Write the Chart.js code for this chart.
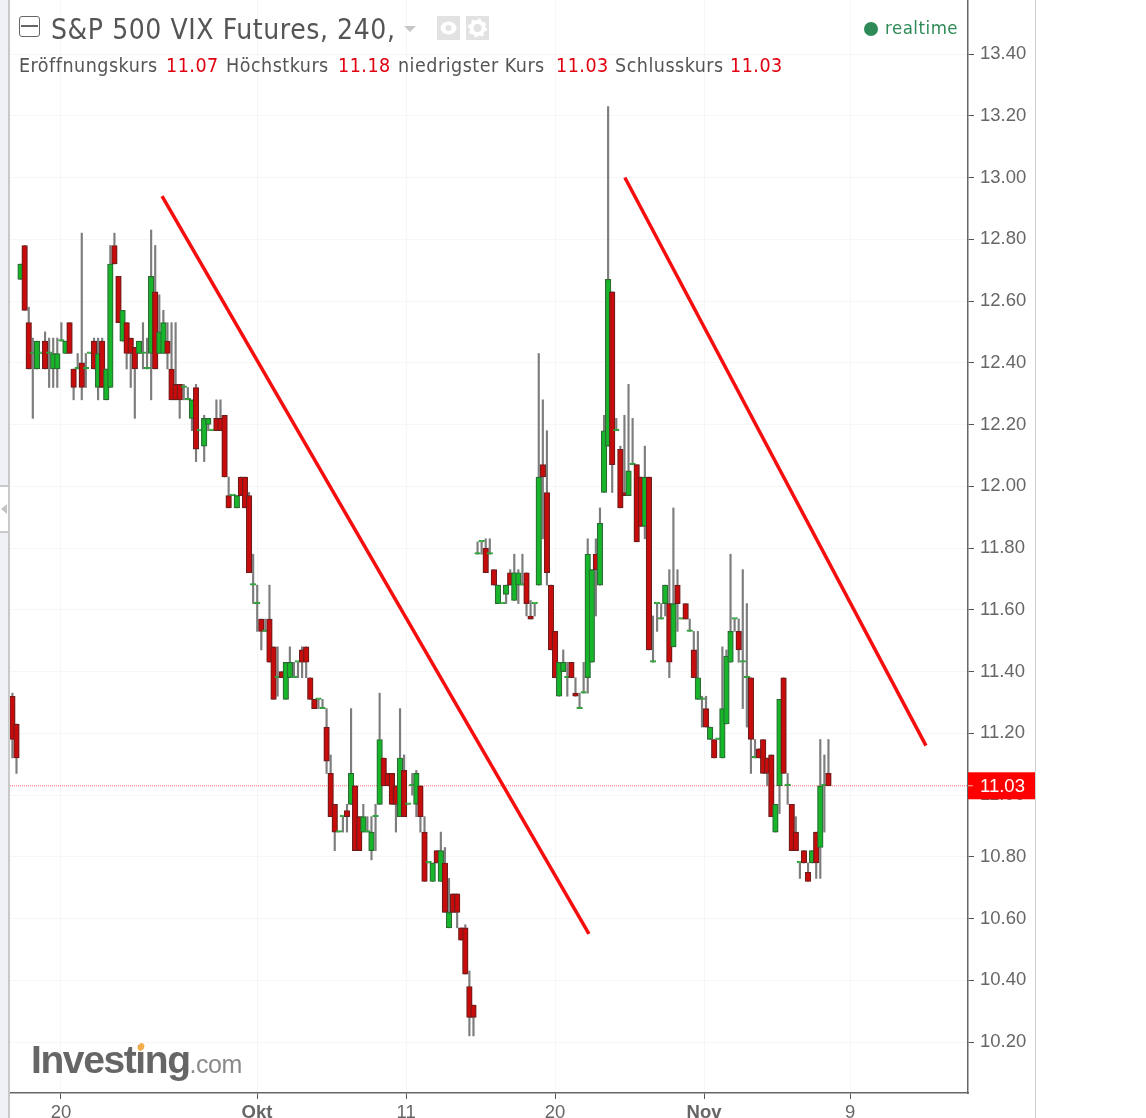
<!DOCTYPE html>
<html lang="de">
<head>
<meta charset="UTF-8">
<title>S&amp;P 500 VIX Futures, 240</title>
<script src="https://cdn.jsdelivr.net/npm/chart.js"></script>
<style>
    html, body { margin: 0; padding: 0; background: #fff; width: 1146px; height: 1118px; overflow: hidden; }
    #chart { position: absolute; left: 0; top: 0; }
    .panel { position: absolute; left: 0; top: 0; width: 8px; height: 1118px; background: #eff1f6; border-right: 2px solid #c9c9c9; }
    .tab { position: absolute; left: 0; top: 485px; width: 8px; height: 44px; background: #fff; border-top: 2px solid #c9c9c9; border-bottom: 2px solid #c9c9c9; }
    .tab:after { content: ""; position: absolute; left: 1px; top: 17px; border: 5px solid transparent; border-left: 0; border-right: 6px solid #c4c4c4; }
    .rightline { position: absolute; left: 1035px; top: 0; width: 1px; height: 1118px; background: #cfcfcf; }
    .txt { position: absolute; white-space: nowrap; font-family: "DejaVu Sans Condensed", "DejaVu Sans", sans-serif; color: #555; }
    .title { left: 51px; top: 12px; font-size: 28px; line-height: 36px; letter-spacing: 0.58px; }
    .lg { top: 54px; font-size: 19.5px; line-height: 24px; letter-spacing: 0.5px; }
    .val { color: #e0000f; }
    .minus { position: absolute; left: 19px; top: 16px; width: 19px; height: 19px; border: 1.5px solid #666; border-radius: 3px; }
    .minus:after { content: ""; position: absolute; left: 1px; right: 1px; top: 8px; height: 2px; background: #666; }
    .caret { position: absolute; left: 404px; top: 26px; border: 6.5px solid transparent; border-bottom: 0; border-top: 6px solid #c8c8c8; }
    .ico { position: absolute; top: 16px; width: 23px; height: 24px; background: #e2e2e2; }
    .dot { position: absolute; left: 864px; top: 22px; width: 14px; height: 14px; border-radius: 50%; background: #2e8b57; }
    .rt { left: 885px; top: 16px; font-size: 18.5px; line-height: 24px; color: #2e8b57; letter-spacing: 0.5px; }
    .logo { position: absolute; left: 31px; top: 1039px; white-space: nowrap; font-family: "Liberation Sans", Arial, sans-serif; line-height: 42px; color: #666; }
    .logo b { font-size: 39px; letter-spacing: -1.4px; }
    .logo span { font-size: 25px; color: #8a8a8a; letter-spacing: -0.5px; }
    .spark { position: absolute; left: 138px; top: 1043px; width: 6px; height: 8px; border-radius: 50%; background: #f4ad4d; transform: rotate(30deg); }
</style>
</head>
<body>
<canvas id="chart" width="1146" height="1118"></canvas>
<div class="panel"></div>
<div class="tab"></div>
<div class="rightline"></div>

<div class="minus"></div>
<div class="txt title">S&amp;P 500 VIX Futures, 240,</div>
<div class="caret"></div>
<div class="ico" style="left:437px">
    <svg width="23" height="24"><ellipse cx="11.5" cy="12" rx="8" ry="6.5" fill="#fff"/><circle cx="11.5" cy="12" r="3" fill="#e2e2e2"/></svg>
</div>
<div class="ico" style="left:466px">
    <svg width="23" height="24"><circle cx="11.5" cy="12" r="6" fill="none" stroke="#fff" stroke-width="4"/><circle cx="11.5" cy="12" r="8" fill="none" stroke="#fff" stroke-width="3" stroke-dasharray="3 3.3"/></svg>
</div>
<div class="dot"></div>
<div class="txt rt">realtime</div>

<div class="txt lg" style="left:19px">Eröffnungskurs</div>
<div class="txt lg val" style="left:166px">11.07</div>
<div class="txt lg" style="left:226px">Höchstkurs</div>
<div class="txt lg val" style="left:338px">11.18</div>
<div class="txt lg" style="left:398px">niedrigster Kurs</div>
<div class="txt lg val" style="left:556px">11.03</div>
<div class="txt lg" style="left:615px">Schlusskurs</div>
<div class="txt lg val" style="left:730px">11.03</div>

<div class="logo"><b>Investing</b><span>.com</span></div>
<div class="spark"></div>

<script>
    // 4h candles (prices in order of the bars)
    const opens = [
        11.32,11.23,12.67,12.78,12.53,12.43,12.38,12.43,12.47,12.43,
        12.38,12.38,12.47,12.43,12.53,12.38,12.38,12.40,12.38,12.43,
        12.47,12.32,12.47,12.28,12.32,12.78,12.68,12.47,12.53,12.48,
        12.45,12.43,12.43,12.38,12.43,12.63,12.43,12.43,12.47,12.38,
        12.33,12.33,12.32,12.28,12.22,12.32,12.18,12.13,12.20,12.18,
        12.22,12.22,12.23,11.97,11.97,11.93,12.03,12.03,11.97,11.68,
        11.62,11.57,11.53,11.57,11.48,11.38,11.40,11.31,11.38,11.38,
        11.43,11.47,11.48,11.38,11.31,11.31,11.28,11.22,11.07,10.97,
        10.88,10.93,10.95,10.97,11.03,10.93,10.88,10.88,10.82,10.93,
        10.97,11.12,11.07,11.07,11.03,10.93,11.08,10.97,11.03,10.97,
        11.03,10.88,10.78,10.72,10.82,10.72,10.78,10.57,10.68,10.68,
        10.57,10.57,10.38,10.32,11.78,11.82,11.80,11.78,11.73,11.62,
        11.62,11.65,11.72,11.63,11.68,11.68,11.72,11.58,11.62,11.68,
        12.07,11.98,11.68,11.53,11.32,11.40,11.38,11.43,11.33,11.28,
        11.33,11.38,11.43,11.78,11.68,11.98,12.13,12.63,12.18,12.12,
        11.98,11.97,12.07,12.07,12.03,11.87,12.03,11.43,11.62,11.57,
        11.62,11.62,11.48,11.68,11.57,11.62,11.53,11.47,11.31,11.31,
        11.28,11.18,11.18,11.18,11.12,11.23,11.43,11.57,11.53,11.43,
        11.38,11.38,11.12,11.15,11.18,11.12,11.13,10.88,11.03,11.38,
        11.03,10.97,10.88,10.78,10.82,10.75,10.78,10.88,10.83,11.03,11.07
    ];
    const highs = [
        11.33,11.23,12.72,12.78,12.58,12.48,12.47,12.43,12.50,12.48,
        12.48,12.48,12.53,12.47,12.53,12.38,12.43,12.82,12.43,12.43,
        12.48,12.48,12.48,12.38,12.78,12.82,12.68,12.57,12.53,12.48,
        12.45,12.47,12.53,12.48,12.83,12.78,12.62,12.57,12.53,12.53,
        12.53,12.33,12.33,12.32,12.28,12.33,12.18,12.23,12.22,12.18,
        12.28,12.28,12.23,12.03,11.97,11.97,12.03,12.03,11.98,11.78,
        11.68,11.57,11.57,11.68,11.48,11.48,11.40,11.43,11.48,11.43,
        11.43,11.48,11.48,11.38,11.31,11.31,11.31,11.28,11.13,10.97,
        10.88,10.93,10.97,11.28,11.03,10.93,10.97,10.93,10.93,10.97,
        11.33,11.12,11.07,11.07,11.03,11.28,11.13,10.97,11.07,11.08,
        11.03,10.93,10.78,10.78,10.82,10.88,10.83,10.73,10.68,10.68,
        10.57,10.58,10.43,10.32,11.82,11.82,11.83,11.83,11.73,11.68,
        11.62,11.68,11.73,11.78,11.73,11.78,11.72,11.63,11.62,12.43,
        12.28,12.18,11.68,11.53,11.43,11.47,11.43,11.43,11.38,11.33,
        11.43,11.83,11.73,11.83,11.93,12.23,13.23,12.63,12.22,12.13,
        12.23,12.33,12.22,12.07,12.03,12.13,12.03,11.58,11.62,11.62,
        11.68,11.73,11.93,11.73,11.57,11.62,11.57,11.53,11.53,11.32,
        11.32,11.22,11.18,11.18,11.48,11.47,11.78,11.57,11.57,11.73,
        11.62,11.38,11.18,11.15,11.18,11.12,11.13,10.97,11.31,11.38,
        11.07,10.97,10.93,10.78,10.82,10.78,10.82,10.88,11.18,11.13,11.18
    ];
    const lows = [
        11.12,11.07,12.67,12.57,12.38,12.22,12.38,12.43,12.38,12.32,
        12.32,12.32,12.47,12.43,12.43,12.28,12.38,12.28,12.32,12.43,
        12.38,12.28,12.32,12.28,12.32,12.72,12.53,12.47,12.38,12.32,
        12.22,12.43,12.38,12.38,12.28,12.38,12.43,12.43,12.38,12.28,
        12.28,12.22,12.28,12.28,12.18,12.08,12.18,12.08,12.18,12.18,
        12.18,12.18,12.03,11.93,11.97,11.93,11.97,11.93,11.72,11.62,
        11.53,11.47,11.53,11.43,11.31,11.32,11.38,11.31,11.38,11.38,
        11.38,11.38,11.38,11.31,11.28,11.28,11.28,11.07,10.93,10.82,
        10.88,10.88,10.88,10.97,10.82,10.82,10.88,10.88,10.79,10.82,
        10.97,11.03,11.03,10.97,10.88,10.93,10.93,10.97,11.00,10.93,
        10.88,10.72,10.78,10.72,10.78,10.72,10.62,10.57,10.62,10.57,
        10.53,10.42,10.22,10.22,11.78,11.78,11.72,11.78,11.68,11.62,
        11.62,11.62,11.68,11.63,11.62,11.68,11.58,11.57,11.58,11.68,
        11.83,11.68,11.47,11.38,11.32,11.40,11.32,11.38,11.32,11.28,
        11.33,11.33,11.43,11.58,11.68,11.98,12.13,11.98,12.18,11.93,
        11.97,11.97,12.07,11.82,11.87,11.83,11.47,11.43,11.53,11.57,
        11.58,11.38,11.48,11.53,11.57,11.57,11.53,11.38,11.31,11.22,
        11.22,11.18,11.12,11.18,11.12,11.23,11.43,11.53,11.43,11.28,
        11.22,11.07,11.12,11.12,11.07,11.03,10.93,10.88,10.94,11.07,
        10.97,10.82,10.82,10.73,10.78,10.72,10.78,10.73,10.73,10.88,11.03
    ];
    const closes = [
        11.18,11.12,12.72,12.57,12.38,12.43,12.47,12.43,12.38,12.43,
        12.43,12.43,12.47,12.47,12.43,12.32,12.38,12.32,12.38,12.43,
        12.38,12.43,12.32,12.38,12.72,12.72,12.53,12.57,12.43,12.43,
        12.38,12.47,12.43,12.38,12.68,12.38,12.50,12.53,12.43,12.28,
        12.28,12.28,12.32,12.28,12.28,12.12,12.18,12.22,12.22,12.18,
        12.18,12.18,12.03,11.93,11.97,11.97,11.97,11.93,11.72,11.68,
        11.62,11.53,11.53,11.43,11.31,11.38,11.38,11.43,11.43,11.38,
        11.43,11.43,11.43,11.31,11.28,11.31,11.28,11.11,10.93,10.88,
        10.88,10.93,10.93,11.07,10.82,10.82,10.93,10.88,10.88,10.93,
        11.18,11.03,11.03,10.97,10.97,11.12,10.93,10.97,11.03,11.07,
        10.93,10.72,10.78,10.78,10.78,10.82,10.62,10.62,10.62,10.62,
        10.53,10.42,10.28,10.28,11.78,11.82,11.72,11.78,11.68,11.68,
        11.62,11.68,11.68,11.72,11.72,11.68,11.62,11.57,11.62,12.03,
        12.03,11.72,11.47,11.38,11.43,11.43,11.38,11.38,11.32,11.28,
        11.33,11.78,11.73,11.73,11.88,12.18,12.67,12.07,12.18,11.93,
        11.97,12.05,12.07,11.82,11.87,12.03,11.47,11.43,11.62,11.57,
        11.68,11.43,11.62,11.62,11.57,11.57,11.53,11.38,11.38,11.31,
        11.22,11.22,11.12,11.18,11.28,11.45,11.53,11.57,11.47,11.43,
        11.38,11.18,11.12,11.12,11.07,11.07,10.93,10.97,11.31,11.07,
        11.03,10.82,10.82,10.78,10.78,10.72,10.82,10.78,11.03,11.03,11.03
    ];

    const priceTicks = [10.2,10.4,10.6,10.8,11.0,11.2,11.4,11.6,11.8,12.0,12.2,12.4,12.6,12.8,13.0,13.2,13.4];
    const timeTicks = [11.9,59.95,96.5,133,169.5,205.3];
    const timeLabels = ['20','Okt','11','20','Nov','9'];
    const boldLabels = ['Okt','Nov'];

    const lastPrice = 11.03;
    const trendA = [[36.67,12.94],[141.3,10.55]];
    const trendB = [[150.1,13.0],[223.9,11.16]];

    const xMin = -0.59, xMax = 234.2, yMin = 10.035, yMax = 13.575;

    const wickData = opens.map((o, i) => ({x: i, y: [lows[i], highs[i]]}));
    const bodyData = opens.map((o, i) => ({x: i, y: [o, closes[i]]}));
    const isDown = opens.map((o, i) => o > closes[i]);
    const isFlat = opens.map((o, i) => o === closes[i]);

    // last price box sits on the price axis, over its tick labels
    const priceTag = {
        id: 'priceTag',
        afterDraw(chart) {
            const c = chart.ctx, y = chart.scales.y.getPixelForValue(lastPrice);
            c.save();
            c.fillStyle = '#ff0000';
            c.fillRect(968, y - 13.5, 67, 27);
            c.strokeStyle = '#ffb0b0';
            c.beginPath(); c.moveTo(968, y); c.lineTo(973, y); c.stroke();
            c.fillStyle = '#fff';
            c.font = '18.5px "Liberation Sans", Arial, sans-serif';
            c.textAlign = 'left';
            c.textBaseline = 'middle';
            c.fillText(lastPrice.toFixed(2), 980, y + 1);
            c.restore();
        }
    };

    new Chart(document.getElementById('chart').getContext('2d'), {
        data: {
            datasets: [
                {type: 'line', order: 0, data: trendA.map(p => ({x: p[0], y: p[1]})), borderColor: '#f60d0d', borderWidth: 3.5, pointRadius: 0, pointHoverRadius: 0, pointBorderWidth: 0},
                {type: 'line', order: 0, data: trendB.map(p => ({x: p[0], y: p[1]})), borderColor: '#f60d0d', borderWidth: 3.5, pointRadius: 0, pointHoverRadius: 0, pointBorderWidth: 0},
                {type: 'bar', order: 1, grouped: false, data: bodyData, barThickness: 5.6, minBarLength: 1.6, borderSkipped: false, borderWidth: 1.2,
                    backgroundColor: isDown.map((d, i) => d ? '#c80b0b' : '#17b52a'),
                    borderColor: isDown.map((d, i) => d ? '#6e1c1c' : (isFlat[i] ? '#2f9a3a' : '#2a6b33'))},
                {type: 'line', order: 2, data: [{x: xMin, y: lastPrice}, {x: xMax, y: lastPrice}], borderColor: '#ff6a6a', borderWidth: 1, borderDash: [1, 1], pointRadius: 0, pointHoverRadius: 0, pointBorderWidth: 0},
                {type: 'bar', order: 3, grouped: false, data: wickData, barThickness: 1.5, backgroundColor: '#7d7d7d', borderWidth: 0}
            ]
        },
        options: {
            responsive: false,
            animation: false,
            layout: {autoPadding: false, padding: {left: 10, top: 0, right: 0, bottom: 0}},
            plugins: {legend: {display: false}, tooltip: {enabled: false}},
            scales: {
                x: {
                    type: 'linear', min: xMin, max: xMax, offset: false,
                    afterBuildTicks: s => { s.ticks = timeTicks.map(v => ({value: v})); },
                    afterFit: s => { s.height = 25; s.paddingLeft = 0; s.paddingRight = 0; },
                    grid: {offset: false, color: '#f6f6f6', tickColor: '#555', tickLength: 6},
                    border: {color: '#666', width: 1.5},
                    ticks: {
                        autoSkip: false, maxRotation: 0, padding: 3, color: '#666',
                        font: c => ({family: '"Liberation Sans", Arial, sans-serif', size: 18.5, weight: c.tick && boldLabels.includes(c.tick.label) ? 'bold' : 'normal'}),
                        callback: v => timeLabels[timeTicks.indexOf(v)]
                    }
                },
                y: {
                    type: 'linear', position: 'right', min: yMin, max: yMax,
                    afterBuildTicks: s => { s.ticks = priceTicks.map(v => ({value: v})); },
                    afterFit: s => { s.width = 178; s.paddingTop = 0; s.paddingBottom = 0; },
                    grid: {color: '#f6f6f6', tickColor: '#555', tickLength: 6},
                    border: {color: '#666', width: 1.5},
                    ticks: {
                        padding: 6, color: '#666',
                        font: {family: '"Liberation Sans", Arial, sans-serif', size: 18.5},
                        callback: v => v.toFixed(2)
                    }
                }
            }
        },
        plugins: [priceTag]
    });
</script>
</body>
</html>
